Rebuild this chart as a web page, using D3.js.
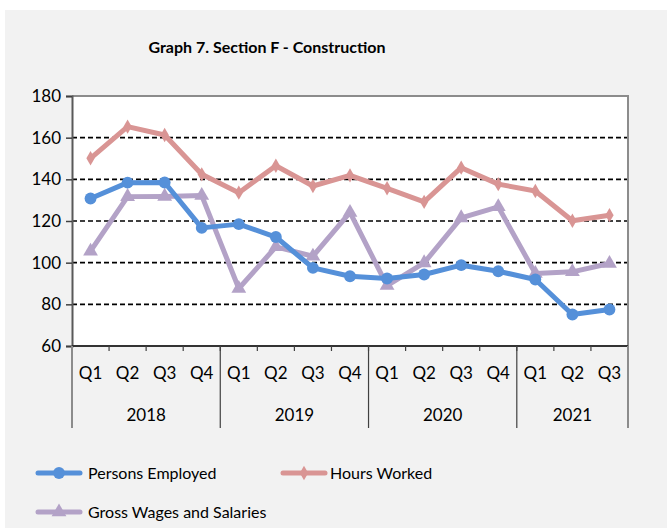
<!DOCTYPE html>
<html><head><meta charset="utf-8">
<script src="https://cdn.jsdelivr.net/npm/d3@7"></script>
<style>body{margin:0;background:#fff}svg{display:block}text{font-family:Lato,"Open Sans",sans-serif;fill:#000}</style>
</head><body><svg id="c" width="667" height="528"></svg>
<script>
const quarters = ["Q1","Q2","Q3","Q4","Q1","Q2","Q3","Q4","Q1","Q2","Q3","Q4","Q1","Q2","Q3"];
const years = ["2018","2019","2020","2021"];
const yearCounts = [4,4,4,3];
const yTicks = [60,80,100,120,140,160,180];
const personsEmployed = [130.8,138.4,138.5,116.7,118.5,112.3,97.5,93.5,92.4,94.3,98.8,95.9,91.9,75.1,77.5];
const hoursWorked = [150.1,165.3,161.3,142.4,133.6,146.5,136.8,141.9,135.7,129.2,145.6,137.7,134.4,120.1,122.8];
const grossWages = [105.5,131.7,131.8,132.2,87.6,107.6,103.1,124.1,89.0,99.9,121.5,126.8,94.8,95.6,99.6];
const seriesNames = ["Persons Employed","Hours Worked","Gross Wages and Salaries"];

const svg = d3.select("#c");
svg.append("rect").attr("x",5).attr("y",10).attr("width",662).attr("height",518).attr("fill","#f2f2f2");

const L=72,R=628,T=96,B=346;
const x = d3.scaleBand().domain(d3.range(quarters.length)).range([L,R]);
const y = d3.scaleLinear().domain([60,180]).range([B,T]);
const cx = i => x(i)+x.bandwidth()/2;

svg.append("rect").attr("x",L).attr("y",T).attr("width",R-L).attr("height",B-T).attr("fill","#fff");

svg.append("text").attr("x",267).attr("y",53).attr("text-anchor","middle")
  .style("font-weight","bold").style("font-size","16px").text("Graph 7. Section F - Construction");

// gridlines
svg.append("g").selectAll("line").data(yTicks.filter(v=>v>60&&v<180)).join("line")
  .attr("x1",L).attr("x2",R).attr("y1",d=>y(d)).attr("y2",d=>y(d))
  .attr("stroke","#000").attr("stroke-width",1.6).attr("stroke-dasharray","5,3");

// top & right border
svg.append("path").attr("d",`M${L},${T}H${R}V${B}`).attr("fill","none").attr("stroke","#8c8c8c").attr("stroke-width",2);

// y axis
const ya = svg.append("g").attr("transform",`translate(${L},0)`)
  .call(d3.axisLeft(y).tickValues(yTicks).tickSize(6).tickPadding(5));
ya.select(".domain").attr("stroke","#595959").attr("stroke-width",2);
ya.selectAll(".tick line").attr("stroke","#404040").attr("stroke-width",1.5);
ya.selectAll("text").style("font-size","17px").attr("fill","#000");

// x axis line
svg.append("line").attr("x1",L).attr("x2",R).attr("y1",B).attr("y2",B).attr("stroke","#333").attr("stroke-width",2);
// minor ticks
svg.append("g").selectAll("line").data(d3.range(quarters.length+1)).join("line")
  .attr("x1",i=>L+i*x.step()).attr("x2",i=>L+i*x.step()).attr("y1",B).attr("y2",B+5)
  .attr("stroke","#404040").attr("stroke-width",1.2);
// year separators
let cum=[0]; yearCounts.forEach(c=>cum.push(cum[cum.length-1]+c));
svg.append("g").selectAll("line").data(cum).join("line")
  .attr("x1",i=>L+i*x.step()).attr("x2",i=>L+i*x.step()).attr("y1",B).attr("y2",428)
  .attr("stroke",(d,i)=> (i==0||i==cum.length-1)?"#8c8c8c":"#404040").attr("stroke-width",(d,i)=>(i==0||i==cum.length-1)?2:1.2);
// quarter labels
svg.append("g").selectAll("text").data(quarters).join("text")
  .attr("x",(d,i)=>cx(i)).attr("y",379).attr("text-anchor","middle").style("font-size","17px").text(d=>d);
// year labels
svg.append("g").selectAll("text").data(years).join("text")
  .attr("x",(d,i)=>L+(cum[i]+cum[i+1])/2*x.step()).attr("y",421).attr("text-anchor","middle").style("font-size","17px").text(d=>d);

const colors=["#5590d9","#d99594","#b3a2c7"];
const data=[personsEmployed,hoursWorked,grossWages];
const symbols=[d3.symbolCircle,d3.symbolDiamond,d3.symbolTriangle];
const sizes=[110,60,95];
const line=d3.line().x((d,i)=>cx(i)).y(d=>y(d));
[1,2,0].forEach(s=>{
  svg.append("path").datum(data[s]).attr("d",line).attr("fill","none").attr("stroke",colors[s]).attr("stroke-width",5).attr("stroke-linejoin","round");
  svg.append("g").selectAll("path").data(data[s]).join("path")
    .attr("transform",(d,i)=>`translate(${cx(i)},${y(d)})`)
    .attr("d",d3.symbol().type(symbols[s]).size(sizes[s])).attr("fill",colors[s]);
});

// legend
const leg=[{x:38,y:473},{x:283,y:473},{x:38,y:512}];
leg.forEach((p,s)=>{
  const g=svg.append("g").attr("transform",`translate(${p.x},${p.y})`);
  g.append("line").attr("x1",0).attr("x2",42).attr("stroke",colors[s]).attr("stroke-width",5).attr("stroke-linecap","round");
  g.append("path").attr("transform","translate(21,0)").attr("d",d3.symbol().type(symbols[s]).size(sizes[s])).attr("fill",colors[s]);
  g.append("text").attr("x",s==1?47:50).attr("y",6).style("font-size","16px").text(seriesNames[s]);
});
</script></body></html>
